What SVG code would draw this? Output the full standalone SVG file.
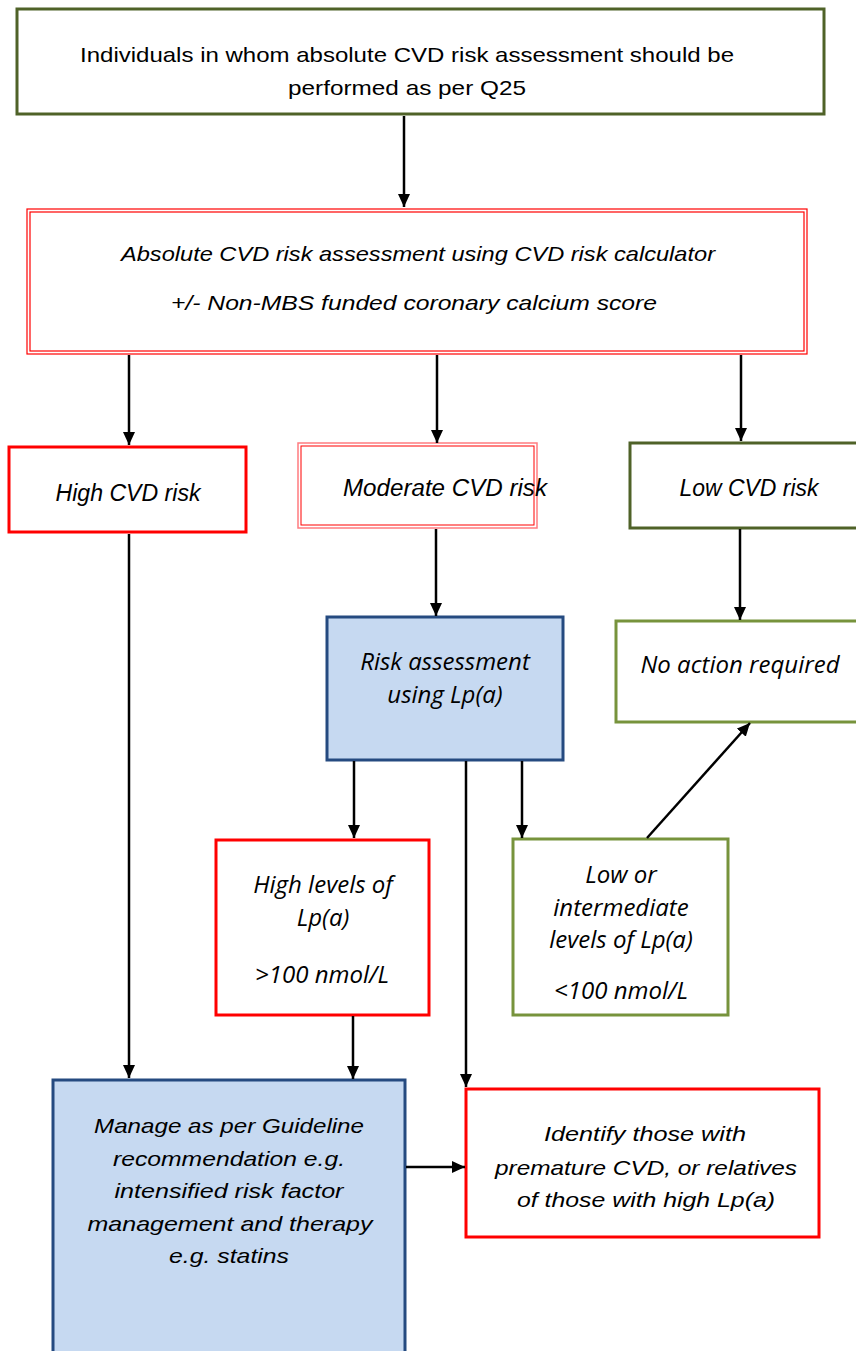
<svg xmlns="http://www.w3.org/2000/svg" width="856" height="1351" viewBox="0 0 856 1351">
<style>
.c{font-family:"Liberation Sans",Arial,sans-serif;font-size:21px;fill:#000;text-anchor:middle}
.ci{font-family:"Liberation Sans",Arial,sans-serif;font-size:21px;font-style:italic;fill:#000;text-anchor:middle}
.cb{font-size:23px}
.o{font-family:"Open Sans","DejaVu Sans",sans-serif;font-size:24px;font-style:italic;fill:#000;text-anchor:middle}
.red{fill:#fff;stroke:#ff0000;stroke-width:3}
.olive{fill:#fff;stroke:#4f6228;stroke-width:3}
.green{fill:#fff;stroke:#77933c;stroke-width:3}
.blue{fill:#c6d9f1;stroke:#254a80;stroke-width:3}
.ln{stroke:#000;stroke-width:2.5;fill:none}
</style>
<defs>
<marker id="ah" markerUnits="userSpaceOnUse" markerWidth="14" markerHeight="12" refX="13" refY="6" orient="auto">
<path d="M0,0 L13,6 L0,12 z" fill="#000"/>
</marker>
</defs>
<rect width="856" height="1351" fill="#fff"/>

<g id="n-individuals">
<rect class="olive" x="17" y="9" width="807" height="105"/>
<text class="c" x="407" y="62" textLength="654" lengthAdjust="spacingAndGlyphs">Individuals in whom absolute CVD risk assessment should be</text>
<text class="c" x="407" y="95" textLength="238" lengthAdjust="spacingAndGlyphs">performed as per Q25</text>
</g>

<g id="n-absolute">
<rect x="27" y="209" width="780" height="145" fill="#fff" stroke="#ff0000" stroke-width="1.2"/>
<rect x="30" y="212" width="774" height="139" fill="none" stroke="#ff0000" stroke-width="1.2"/>
<text class="ci" x="418" y="261" textLength="594" lengthAdjust="spacingAndGlyphs">Absolute CVD risk assessment using CVD risk calculator</text>
<text class="ci" x="414" y="310" textLength="486" lengthAdjust="spacingAndGlyphs">+/- Non-MBS funded coronary calcium score</text>
</g>

<g id="n-high">
<rect class="red" x="9" y="447" width="237" height="85"/>
<text class="ci cb" x="128" y="501" textLength="145" lengthAdjust="spacingAndGlyphs">High CVD risk</text>
</g>

<g id="n-moderate">
<rect x="298" y="443" width="239" height="85" fill="#fff" stroke="#ff7c80" stroke-width="1.5"/>
<rect x="301" y="446" width="233" height="79" fill="none" stroke="#ff0000" stroke-width="1"/>
<text class="ci cb" x="445" y="496" textLength="204" lengthAdjust="spacingAndGlyphs">Moderate CVD risk</text>
</g>

<g id="n-low">
<rect class="olive" x="630" y="443" width="240" height="85"/>
<text class="ci cb" x="749" y="496" textLength="139" lengthAdjust="spacingAndGlyphs">Low CVD risk</text>
</g>

<g id="n-risk-lpa">
<rect class="blue" x="327" y="617" width="236" height="143"/>
<text class="o" x="445" y="670">Risk assessment</text>
<text class="o" x="445" y="703">using Lp(a)</text>
</g>

<g id="n-noaction">
<rect class="green" x="616" y="621" width="254" height="101"/>
<text class="o" x="740" y="673">No action required</text>
</g>

<g id="n-highlpa">
<rect class="red" x="216" y="840" width="213" height="175"/>
<text class="o" x="323" y="893">High levels of</text>
<text class="o" x="323" y="926">Lp(a)</text>
<text class="o" x="322" y="983">&gt;100 nmol/L</text>
</g>

<g id="n-lowlpa">
<rect class="green" x="513" y="839" width="215" height="176"/>
<text class="o" x="621" y="883">Low or</text>
<text class="o" x="621" y="916">intermediate</text>
<text class="o" x="621" y="948">levels of Lp(a)</text>
<text class="o" x="621" y="999">&lt;100 nmol/L</text>
</g>

<g id="n-manage">
<rect class="blue" x="53" y="1080" width="352" height="290"/>
<text class="ci" x="229" y="1133" textLength="270" lengthAdjust="spacingAndGlyphs">Manage as per Guideline</text>
<text class="ci" x="229" y="1166" textLength="232" lengthAdjust="spacingAndGlyphs">recommendation e.g.</text>
<text class="ci" x="229" y="1198" textLength="229" lengthAdjust="spacingAndGlyphs">intensified risk factor</text>
<text class="ci" x="230" y="1231" textLength="285" lengthAdjust="spacingAndGlyphs">management and therapy</text>
<text class="ci" x="229" y="1263" textLength="120" lengthAdjust="spacingAndGlyphs">e.g. statins</text>
</g>

<g id="n-identify">
<rect class="red" x="466" y="1089" width="353" height="148"/>
<text class="ci" x="645" y="1141" textLength="202" lengthAdjust="spacingAndGlyphs">Identify those with</text>
<text class="ci" x="646" y="1175" textLength="302" lengthAdjust="spacingAndGlyphs">premature CVD, or relatives</text>
<text class="ci" x="646" y="1207" textLength="258" lengthAdjust="spacingAndGlyphs">of those with high Lp(a)</text>
</g>

<g id="connectors">
<line class="ln" x1="404" y1="116" x2="404" y2="207" marker-end="url(#ah)"/>
<line class="ln" x1="129" y1="355" x2="129" y2="445" marker-end="url(#ah)"/>
<line class="ln" x1="437" y1="355" x2="437" y2="443" marker-end="url(#ah)"/>
<line class="ln" x1="741" y1="355" x2="741" y2="441" marker-end="url(#ah)"/>
<line class="ln" x1="436" y1="529" x2="436" y2="616" marker-end="url(#ah)"/>
<line class="ln" x1="740" y1="529" x2="740" y2="620" marker-end="url(#ah)"/>
<line class="ln" x1="354" y1="761" x2="354" y2="838" marker-end="url(#ah)"/>
<line class="ln" x1="522" y1="761" x2="522" y2="838" marker-end="url(#ah)"/>
<line class="ln" x1="466" y1="761" x2="466" y2="1087" marker-end="url(#ah)"/>
<line class="ln" x1="129" y1="534" x2="129" y2="1078" marker-end="url(#ah)"/>
<line class="ln" x1="353" y1="1016" x2="353" y2="1079" marker-end="url(#ah)"/>
<line class="ln" x1="406" y1="1167" x2="465" y2="1167" marker-end="url(#ah)"/>
<line class="ln" x1="647" y1="838" x2="750" y2="723" marker-end="url(#ah)"/>
</g>
</svg>
